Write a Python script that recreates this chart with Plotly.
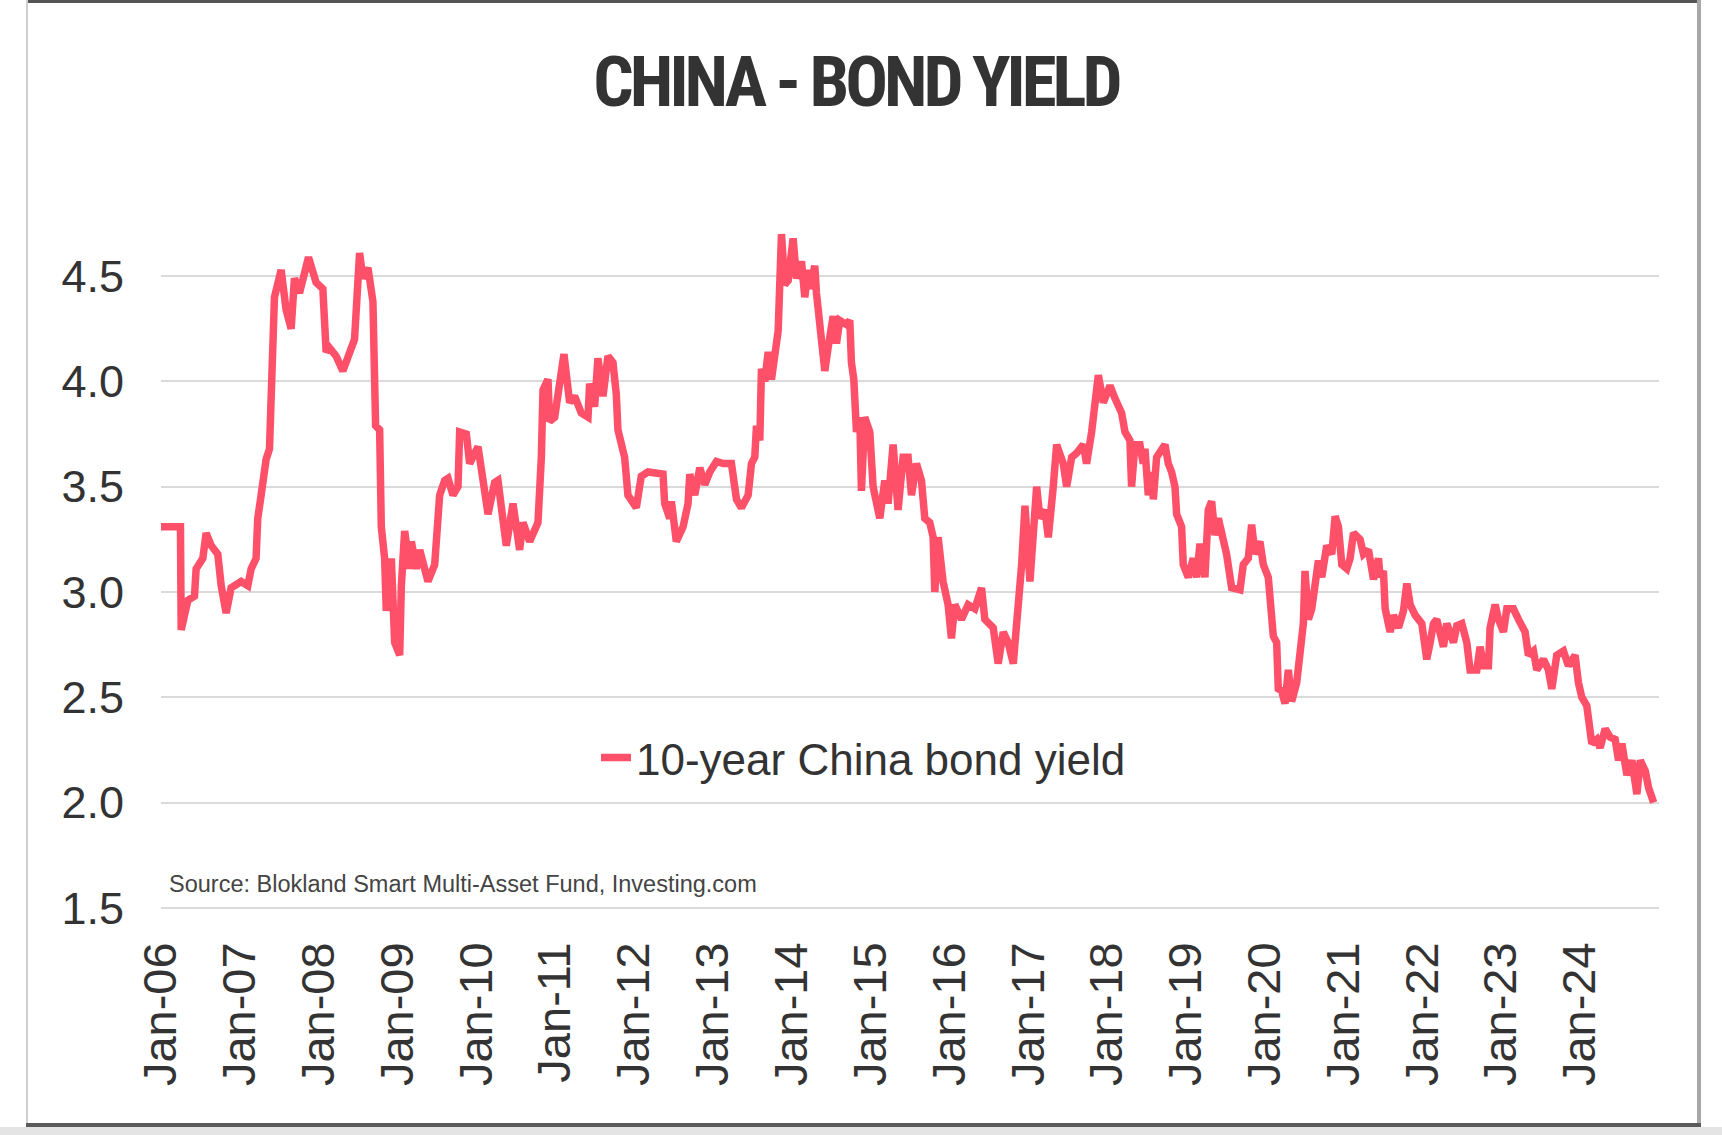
import pandas as pd
import plotly.graph_objects as go

# ---------------- data ----------------
year_fraction = [
    2006.000, 2006.247, 2006.256, 2006.341, 2006.425, 2006.446, 2006.531, 2006.573, 2006.637, 2006.721,
    2006.764, 2006.827, 2006.890, 2007.017, 2007.102, 2007.144, 2007.207, 2007.228, 2007.271, 2007.334,
    2007.377, 2007.398, 2007.440, 2007.525, 2007.588, 2007.652, 2007.694, 2007.758, 2007.800, 2007.872,
    2007.969, 2008.054, 2008.096, 2008.138, 2008.223, 2008.307, 2008.455, 2008.519, 2008.561, 2008.625,
    2008.688, 2008.709, 2008.722, 2008.773, 2008.794, 2008.836, 2008.857, 2008.921, 2008.963, 2009.027,
    2009.048, 2009.090, 2009.154, 2009.175, 2009.238, 2009.281, 2009.386, 2009.471, 2009.534, 2009.598,
    2009.640, 2009.703, 2009.767, 2009.788, 2009.873, 2009.915, 2010.021, 2010.105, 2010.148, 2010.232,
    2010.274, 2010.380, 2010.465, 2010.549, 2010.592, 2010.676, 2010.782, 2010.825, 2010.846, 2010.909,
    2010.930, 2010.994, 2011.057, 2011.112, 2011.184, 2011.247, 2011.332, 2011.417, 2011.438, 2011.501,
    2011.543, 2011.607, 2011.670, 2011.734, 2011.776, 2011.797, 2011.882, 2011.924, 2012.030, 2012.093,
    2012.178, 2012.368, 2012.389, 2012.453, 2012.474, 2012.537, 2012.622, 2012.685, 2012.707, 2012.770,
    2012.834, 2012.897, 2012.960, 2013.045, 2013.130, 2013.235, 2013.299, 2013.362, 2013.447, 2013.489,
    2013.531, 2013.553, 2013.595, 2013.616, 2013.658, 2013.701, 2013.743, 2013.806, 2013.828, 2013.870,
    2013.912, 2013.955, 2014.018, 2014.060, 2014.124, 2014.166, 2014.208, 2014.229, 2014.293, 2014.314,
    2014.377, 2014.420, 2014.462, 2014.526, 2014.568, 2014.610, 2014.695, 2014.737, 2014.758, 2014.788,
    2014.822, 2014.864, 2014.885, 2014.927, 2014.991, 2015.033, 2015.118, 2015.181, 2015.223, 2015.287,
    2015.350, 2015.414, 2015.477, 2015.520, 2015.583, 2015.647, 2015.689, 2015.752, 2015.795, 2015.816,
    2015.858, 2015.921, 2015.985, 2016.027, 2016.070, 2016.154, 2016.239, 2016.323, 2016.408, 2016.450,
    2016.556, 2016.619, 2016.683, 2016.746, 2016.810, 2016.873, 2016.916, 2016.958, 2017.021, 2017.106,
    2017.148, 2017.212, 2017.254, 2017.317, 2017.360, 2017.444, 2017.487, 2017.550, 2017.614, 2017.698,
    2017.740, 2017.804, 2017.846, 2017.889, 2017.952, 2018.037, 2018.100, 2018.185, 2018.227, 2018.290,
    2018.311, 2018.354, 2018.417, 2018.459, 2018.481, 2018.523, 2018.566, 2018.587, 2018.629, 2018.671,
    2018.735, 2018.777, 2018.819, 2018.862, 2018.883, 2018.946, 2018.967, 2019.031, 2019.094, 2019.137,
    2019.179, 2019.242, 2019.285, 2019.327, 2019.369, 2019.412, 2019.475, 2019.517, 2019.581, 2019.687,
    2019.729, 2019.792, 2019.835, 2019.877, 2019.940, 2019.983, 2020.046, 2020.088, 2020.110, 2020.152,
    2020.173, 2020.215, 2020.258, 2020.300, 2020.342, 2020.406, 2020.448, 2020.490, 2020.511, 2020.554,
    2020.596, 2020.638, 2020.681, 2020.723, 2020.786, 2020.850, 2020.892, 2020.934, 2020.977, 2021.040,
    2021.082, 2021.125, 2021.209, 2021.252, 2021.315, 2021.379, 2021.442, 2021.463, 2021.505, 2021.527,
    2021.590, 2021.632, 2021.696, 2021.759, 2021.802, 2021.844, 2021.908, 2021.992, 2022.055, 2022.098,
    2022.140, 2022.182, 2022.225, 2022.267, 2022.309, 2022.394, 2022.436, 2022.500, 2022.563, 2022.605,
    2022.690, 2022.732, 2022.775, 2022.838, 2022.859, 2022.923, 2022.965, 2023.028, 2023.071, 2023.155,
    2023.219, 2023.303, 2023.345, 2023.409, 2023.451, 2023.536, 2023.599, 2023.642, 2023.705, 2023.790,
    2023.853, 2023.938, 2023.980, 2024.023, 2024.086, 2024.149, 2024.213, 2024.255, 2024.319, 2024.382,
    2024.445, 2024.488, 2024.530, 2024.594, 2024.657, 2024.720, 2024.763, 2024.826, 2024.868, 2024.932,
]

yield_pct = [
    3.31, 3.31, 2.82, 2.96, 2.98, 3.11, 3.16, 3.28, 3.22, 3.18,
    3.03, 2.90, 3.02, 3.05, 3.03, 3.11, 3.16, 3.35, 3.46, 3.63,
    3.68, 4.00, 4.40, 4.53, 4.34, 4.25, 4.49, 4.42, 4.49, 4.59,
    4.47, 4.44, 4.14, 4.16, 4.12, 4.05, 4.20, 4.61, 4.49, 4.54,
    4.38, 4.14, 3.79, 3.77, 3.31, 3.16, 2.91, 3.16, 2.76, 2.70,
    3.03, 3.29, 3.11, 3.24, 3.11, 3.20, 3.05, 3.13, 3.46, 3.53,
    3.54, 3.46, 3.50, 3.76, 3.75, 3.61, 3.69, 3.48, 3.37, 3.52,
    3.53, 3.22, 3.42, 3.20, 3.33, 3.24, 3.33, 3.64, 3.96, 4.01,
    3.81, 3.83, 4.01, 4.13, 3.90, 3.93, 3.85, 3.83, 3.99, 3.88,
    4.11, 3.93, 4.12, 4.09, 3.94, 3.77, 3.64, 3.46, 3.40, 3.55,
    3.57, 3.56, 3.42, 3.35, 3.43, 3.24, 3.31, 3.42, 3.56, 3.46,
    3.59, 3.51, 3.57, 3.62, 3.61, 3.61, 3.44, 3.40, 3.46, 3.61,
    3.64, 3.79, 3.72, 4.06, 4.00, 4.14, 4.01, 4.20, 4.24, 4.70,
    4.46, 4.48, 4.68, 4.49, 4.57, 4.40, 4.53, 4.44, 4.55, 4.42,
    4.24, 4.05, 4.16, 4.31, 4.18, 4.29, 4.27, 4.29, 4.09, 4.01,
    3.76, 3.83, 3.48, 3.83, 3.76, 3.50, 3.35, 3.53, 3.42, 3.70,
    3.39, 3.64, 3.64, 3.46, 3.61, 3.53, 3.35, 3.33, 3.26, 3.00,
    3.26, 3.05, 2.94, 2.78, 2.94, 2.87, 2.94, 2.92, 3.02, 2.87,
    2.83, 2.66, 2.81, 2.76, 2.66, 2.89, 3.13, 3.41, 3.05, 3.50,
    3.35, 3.39, 3.26, 3.50, 3.70, 3.61, 3.50, 3.64, 3.66, 3.70,
    3.61, 3.76, 3.92, 4.03, 3.90, 3.98, 3.92, 3.85, 3.76, 3.72,
    3.50, 3.70, 3.70, 3.61, 3.68, 3.46, 3.57, 3.44, 3.64, 3.66,
    3.70, 3.61, 3.57, 3.50, 3.37, 3.31, 3.13, 3.07, 3.16, 3.07,
    3.23, 3.07, 3.39, 3.43, 3.27, 3.35, 3.24, 3.18, 3.02, 3.01,
    3.13, 3.16, 3.32, 3.18, 3.24, 3.13, 3.07, 2.91, 2.79, 2.76,
    2.54, 2.53, 2.47, 2.63, 2.48, 2.57, 2.74, 2.85, 3.10, 2.87,
    2.92, 3.02, 3.15, 3.07, 3.22, 3.18, 3.36, 3.31, 3.13, 3.11,
    3.16, 3.28, 3.25, 3.18, 3.20, 3.06, 3.16, 3.07, 3.10, 2.92,
    2.81, 2.89, 2.83, 2.91, 3.04, 2.94, 2.89, 2.85, 2.68, 2.76,
    2.85, 2.87, 2.78, 2.74, 2.85, 2.76, 2.84, 2.85, 2.76, 2.63,
    2.63, 2.74, 2.65, 2.65, 2.83, 2.94, 2.87, 2.81, 2.92, 2.92,
    2.87, 2.81, 2.70, 2.72, 2.63, 2.68, 2.63, 2.54, 2.70, 2.72,
    2.65, 2.70, 2.57, 2.50, 2.46, 2.28, 2.30, 2.26, 2.35, 2.31,
    2.30, 2.20, 2.28, 2.13, 2.20, 2.04, 2.20, 2.15, 2.07, 2.00,
]

tick_years = list(range(2006, 2025))
y_ticks = [1.5, 2.0, 2.5, 3.0, 3.5, 4.0, 4.5]

series_name = "10-year China bond yield"
title_text = "CHINA - BOND YIELD"
source_text = "Source: Blokland Smart Multi-Asset Fund, Investing.com"


def to_date(yf):
    yr = int(yf)
    start = pd.Timestamp(yr, 1, 1)
    end = pd.Timestamp(yr + 1, 1, 1)
    return start + (end - start) * (yf - yr)


dates = [to_date(v) for v in year_fraction]
tick_dates = [pd.Timestamp(y, 1, 1) for y in tick_years]

# ---------------- layout geometry ----------------
W, H = 1722, 1135
ML, MR, MT, MB = 161, 63, 192, 223
PW = W - ML - MR
PH = H - MT - MB


def px_x(x):
    return (x - ML) / PW


def px_y(y):
    return (H - MB - y) / PH


LINE_COLOR = "#FF506A"
TEXT = "#333333"
FONT = "Liberation Sans, Arial, Helvetica, sans-serif"

fig = go.Figure()
fig.add_trace(go.Scatter(
    x=dates, y=yield_pct, mode="lines", name=series_name,
    line=dict(color=LINE_COLOR, width=7.5), showlegend=True,
))

frame = [
    dict(x0=27, x1=1701, y0=0, y1=3, color="#555555"),
    dict(x0=26, x1=28, y0=0, y1=1125, color="#cfcfcf"),
    dict(x0=1697, x1=1701, y0=0, y1=1125, color="#a8a8a8"),
    dict(x0=0, x1=W, y0=1127, y1=H, color="#e4e4e4"),
    dict(x0=26, x1=1701, y0=1123, y1=1127, color="#5a5a5a"),
]
shapes = []
for f in frame:
    shapes.append(dict(
        type="rect", xref="paper", yref="paper", layer="above",
        x0=px_x(f["x0"]), x1=px_x(f["x1"]), y0=px_y(f["y1"]), y1=px_y(f["y0"]),
        fillcolor=f["color"], line=dict(width=0),
    ))

fig.update_layout(
    width=W, height=H,
    margin=dict(l=ML, r=MR, t=MT, b=MB, autoexpand=False),
    paper_bgcolor="white", plot_bgcolor="white",
    title=dict(
        text='<span style="letter-spacing:-4px"><b>' + title_text + "</b></span>",
        x=856 / W, xref="container", xanchor="center",
        y=1 - 81 / H, yref="container", yanchor="middle",
        font=dict(family="Roboto Condensed, Open Sans, sans-serif", size=71, color=TEXT),
    ),
    legend=dict(
        x=px_x(596), y=px_y(758), xanchor="left", yanchor="middle",
        orientation="h", bgcolor="rgba(0,0,0,0)", itemwidth=30,
        font=dict(family=FONT, size=44, color=TEXT),
    ),
    xaxis=dict(
        type="date", range=[pd.Timestamp(2006, 1, 1), pd.Timestamp(2025, 1, 1)],
        tickvals=tick_dates, tickformat="%b-%y", tickangle=-90,
        showgrid=False, zeroline=False, showline=False, ticks="",
        ticklabelstandoff=20,
        tickfont=dict(family=FONT, size=47, color=TEXT),
        automargin=False,
    ),
    yaxis=dict(
        range=[1.48, 4.9], tickvals=y_ticks, ticktext=[f"{v:.1f}" for v in y_ticks],
        showgrid=True, gridcolor="#dadada", gridwidth=2,
        zeroline=False, showline=False, ticks="",
        ticklabelstandoff=36,
        tickfont=dict(family=FONT, size=45, color=TEXT),
        automargin=False,
    ),
    annotations=[dict(
        text=source_text, xref="paper", yref="paper",
        x=px_x(167), y=px_y(884), xanchor="left", yanchor="middle",
        showarrow=False, font=dict(family=FONT, size=23.5, color="#444444"),
    )],
    shapes=shapes,
    showlegend=True,
)

fig.write_html("out.html")
